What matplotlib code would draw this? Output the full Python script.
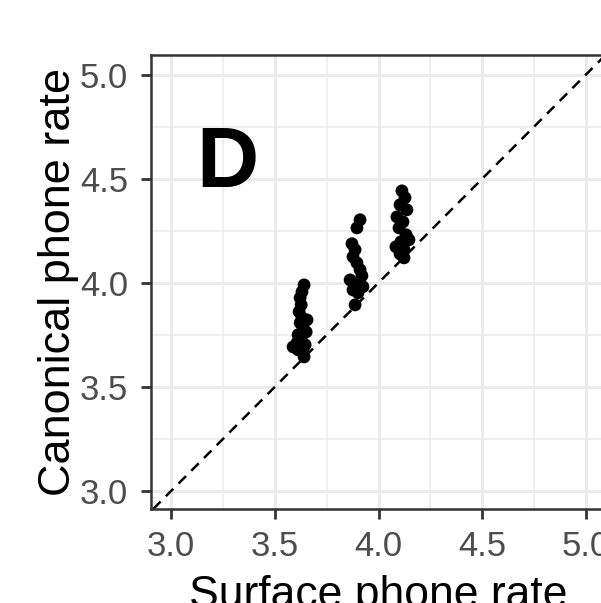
import matplotlib
matplotlib.use("Agg")
import matplotlib.pyplot as plt
from matplotlib.ticker import MultipleLocator

plt.rcParams['font.family'] = ['Liberation Sans', 'DejaVu Sans']

# Data: three clusters of (surface, canonical) phone rates
surface_rate = [
    3.641, 3.631, 3.622, 3.627, 3.617, 3.631, 3.622, 3.636, 3.651, 3.612,
    3.627, 3.607, 3.646, 3.588, 3.612, 3.636, 3.641, 3.655,
    3.911, 3.896, 3.872, 3.887, 3.877, 3.896, 3.911, 3.920, 3.863, 3.892,
    3.925, 3.877, 3.901, 3.887,
    4.113, 4.128, 4.104, 4.137, 4.089, 4.118, 4.099, 4.133, 4.108, 4.084,
    4.123, 4.104, 4.123, 4.147,
]
canonical_rate = [
    3.990, 3.957, 3.928, 3.894, 3.861, 3.832, 3.808, 3.784, 3.764, 3.750,
    3.726, 3.712, 3.702, 3.692, 3.678, 3.673, 3.644, 3.822,
    4.303, 4.264, 4.188, 4.159, 4.125, 4.096, 4.063, 4.034, 4.014, 3.995,
    3.981, 3.966, 3.952, 3.894,
    4.442, 4.409, 4.375, 4.351, 4.317, 4.293, 4.264, 4.231, 4.197, 4.173,
    4.159, 4.139, 4.120, 4.207,
]
tick_values = [3.0, 3.5, 4.0, 4.5, 5.0]
tick_labels = ["3.0", "3.5", "4.0", "4.5", "5.0"]
panel_label = "D"

fig = plt.figure(figsize=(6.01, 6.03), dpi=100)
ax = fig.add_axes([150.5 / 601, 1 - 509 / 603, 456 / 601, (509 - 55) / 603])
ax.set_xlim(2.90, 5.10)
ax.set_ylim(2.913, 5.095)

ax.set_xticks(tick_values)
ax.set_xticklabels(tick_labels)
ax.set_yticks(tick_values)
ax.set_yticklabels(tick_labels)
ax.xaxis.set_minor_locator(MultipleLocator(0.25))
ax.yaxis.set_minor_locator(MultipleLocator(0.25))

ax.grid(True, which='major', color='#EBEBEB', linewidth=2.2)
ax.grid(True, which='minor', color='#EBEBEB', linewidth=1.1)
ax.set_axisbelow(True)

for s in ax.spines.values():
    s.set_color('#333333')
    s.set_linewidth(1.8)

ax.tick_params(which='major', length=7, width=2.0, color='#333333',
               labelsize=25, labelcolor='#4D4D4D')
ax.tick_params(axis='x', which='major', pad=8)
ax.tick_params(axis='y', which='major', pad=9)
ax.tick_params(which='minor', length=0)

ax.axline((3.0, 3.0), slope=1, color='black', linestyle=(0, (4.2, 3)), linewidth=1.8, zorder=2)
ax.scatter(surface_rate, canonical_rate, s=85, color='black', edgecolors='none', zorder=3)

ax.set_xlabel("Surface phone rate", fontsize=32, labelpad=9)
ax.set_ylabel("Canonical phone rate", fontsize=32.5, labelpad=1)

fig.text(227 / 601, 1 - 165 / 603, panel_label, fontsize=62, fontweight='bold',
         ha='center', va='center')

fig.savefig("out.png", dpi=100)
